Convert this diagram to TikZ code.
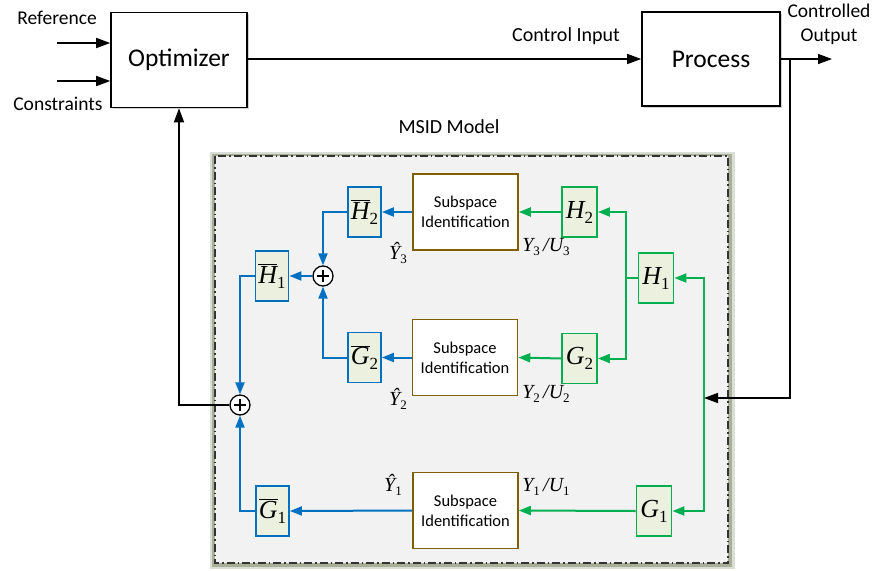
\documentclass[tikz,border=0pt]{standalone}
\usepackage{fontspec}
\setmainfont{Carlito}
\newfontfamily\tms{Liberation Serif}
\usetikzlibrary{arrows.meta,shadows,calc}
\definecolor{bblue}{HTML}{0070C0}
\definecolor{ggreen}{HTML}{00B050}
\definecolor{brn}{HTML}{7F6000}
\definecolor{blkfill}{HTML}{EBF1DE}
\definecolor{panel}{HTML}{F2F2F2}
\definecolor{olivec}{HTML}{98A085}
\newcommand\subn[1]{\raisebox{-5pt}{\fontsize{17}{18}\selectfont\upshape #1}}
\newcommand\subs[1]{\raisebox{-4pt}{\fontsize{13}{14}\selectfont\upshape #1}}
\newcommand\blk[2]{{\tms\fontsize{26}{28}\selectfont\itshape #1\subn{#2}}}
\newcommand\bblk[2]{{\tms\fontsize{26}{28}\selectfont$\overline{\hbox{\itshape #1}}$\subn{#2}}}
\newcommand\yu[1]{{\tms\fontsize{20}{22}\selectfont\itshape Y\subs{#1}\,/U\subs{#1}}}
\newcommand\yh[1]{{\tms\fontsize{20}{22}\selectfont\itshape \^{Y}\subs{#1}}}
\begin{document}
\begin{tikzpicture}[x=1pt,y=-1pt,
  bigbox/.style={draw=black, line width=1.6pt, fill=white, minimum width=136pt,
    minimum height=95pt, font=\fontsize{25.5}{28}\selectfont,
    drop shadow={shadow xshift=1.5pt, shadow yshift=-1.5pt, opacity=0.35, fill=gray}},
  subbox/.style={draw=brn, line width=1.6pt, fill=white, minimum width=105pt,
    minimum height=76pt, align=center, font=\fontsize{16.5}{20}\selectfont},
  gblk/.style={draw=ggreen, line width=1.8pt, fill=blkfill, minimum width=35pt,
    minimum height=50pt, inner sep=0pt},
  bblkst/.style={draw=bblue, line width=1.8pt, fill=blkfill, minimum width=33pt,
    minimum height=50pt, inner sep=0pt},
  sumc/.style={circle, draw=black, line width=1.3pt, fill=white, minimum size=20pt,
    inner sep=0pt, path picture={
      \draw[line width=1.3pt] ([xshift=-6pt]path picture bounding box.center) -- ([xshift=6pt]path picture bounding box.center);
      \draw[line width=1.3pt] ([yshift=-6pt]path picture bounding box.center) -- ([yshift=6pt]path picture bounding box.center);}},
  lbl/.style={font=\fontsize{19.5}{23}\selectfont, inner sep=0pt},
  karrow/.style={draw=black, line width=1.5pt, -{Triangle[length=14pt,width=10pt]}},
  barrow/.style={draw=bblue, line width=2pt, -{Triangle[length=12pt,width=9pt]}},
  garrow/.style={draw=ggreen, line width=2pt, -{Triangle[length=12pt,width=9pt]}},
  gline/.style={draw=ggreen, line width=2pt}
]
\useasboundingbox (0,0) rectangle (875,570);
\fill[white] (0,0) rectangle (875,570);
% panel
\fill[olivec!35] (210,152) rectangle (735,569);
\fill[olivec!85] (212,154) rectangle (732,567);
\fill[panel] (215,156) rectangle (728,563);
\draw[draw=black!80, line width=1.3pt, dash pattern=on 8pt off 3pt on 1.5pt off 3pt]
  (215,156) rectangle (728,563);

% top row
\node[bigbox] (opt) at (179,60) {Optimizer};
\node[bigbox, minimum width=138pt, minimum height=94pt] (proc) at (711,59) {Process};
\node[lbl] (ref) at (57,18) {Reference};
\node[lbl] (cons) at (58,104) {Constraints};
\node[lbl, font=\fontsize{20}{23}\selectfont] (ci) at (566,36) {Control Input};
\node[lbl, align=center] (co) at (829,24) {Controlled\\[1pt]Output};
\node[lbl, font=\fontsize{20}{23}\selectfont] (msid) at (449,127) {MSID Model};
\coordinate (refin) at (57,43);
\coordinate (consin) at (57,81);
\coordinate (outend) at (832,59);
\coordinate (br) at (790,59);

\draw[karrow] (refin) -- (refin -| opt.west);
\draw[karrow] (consin) -- (consin -| opt.west);
\draw[karrow] (opt.east |- proc.west) -- (proc.west);
\draw[karrow] (proc.east) -- (outend);

% subspace boxes
\node[subbox] (s3) at (465.5,212) {Subspace\\Identification};
\node[subbox] (s2) at (465,357.5) {Subspace\\Identification};
\node[subbox] (s1) at (465.5,510.5) {Subspace\\Identification};

% green blocks
\node[gblk] (h2) at (579.5,212) {\blk{H}{2}};
\node[gblk] (g2) at (579.5,358.5) {\blk{G}{2}};
\node[gblk] (h1) at (656,278) {\blk{H}{1}};
\node[gblk] (g1) at (654,511) {\blk{G}{1}};

% blue blocks
\node[bblkst] (hb2) at (364.5,212) {\bblk{H}{2}};
\node[bblkst] (gb2) at (364.5,357.5) {\bblk{G}{2}};
\node[bblkst] (hb1) at (272,276) {\bblk{H}{1}};
\node[bblkst] (gb1) at (272.5,511) {\bblk{G}{1}};

% sums
\node[sumc] (sum1) at (323,276) {};
\node[sumc] (sum2) at (240,405) {};

% labels
\node (l3h) at (398,253) {\yh{3}};
\node (l2h) at (398,399) {\yh{2}};
\node (l1h) at (393,485) {\yh{1}};
\node (l3) at (546,247) {\yu{3}};
\node (l2) at (546,394) {\yu{2}};
\node (l1) at (546,487) {\yu{1}};

% green connectors
\coordinate (gj) at (626,278);
\coordinate (gv) at (704,398);
\draw[gline] (h1.west) -- (gj);
\draw[garrow] (gj) |- (h2.east);
\draw[garrow] (gj) |- (g2.east);
\draw[garrow] (gv) |- (h1.east);
\draw[garrow] (gv) |- (g1.east);
\draw[garrow] (h2.west) -- (s3.east);
\draw[garrow] (g2.west) -- (s2.east);
\draw[garrow] (g1.west) -- (s1.east);

% feedback from process
\draw[karrow] (br) |- (gv);

% blue connectors
\draw[barrow] (s3.west) -- (hb2.east);
\draw[barrow] (s2.west) -- (gb2.east);
\draw[barrow] (s1.west) -- (gb1.east);
\draw[barrow] (hb2.west) -| (sum1.north);
\draw[barrow] (gb2.west) -| (sum1.south);
\draw[barrow] (sum1.west) -- (hb1.east);
\draw[barrow] (hb1.west) -| (sum2.north);
\draw[barrow] (gb1.west) -| (sum2.south);

% to optimizer
\draw[karrow] (sum2.west) -| (opt.south);
\end{tikzpicture}
\end{document}
